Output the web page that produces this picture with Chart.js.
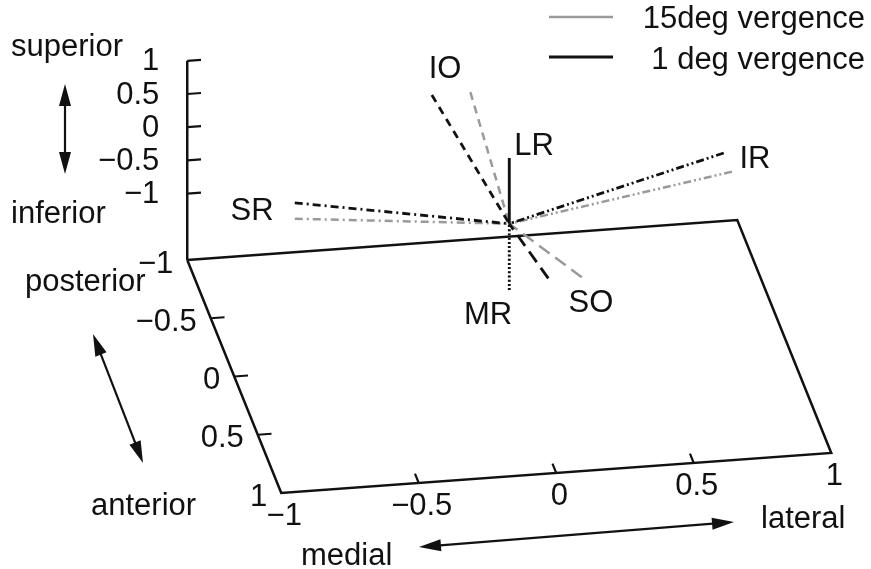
<!DOCTYPE html>
<html><head><meta charset="utf-8">
<script src="https://cdn.jsdelivr.net/npm/chart.js@4.4.0/dist/chart.umd.min.js"></script>
<style>html,body{margin:0;padding:0;background:#fff;}canvas{display:block;}</style>
</head><body>
<canvas id="c" width="871" height="569"></canvas>
<script>
// ---------------- data ----------------
const muscles = ['IO', 'LR', 'MR', 'SO', 'IR', 'SR'];
// muscle direction vectors [lateral, anterior, superior]
const vergence1 = [[-0.09, -1.12, 0], [0, 0, 0.99], [0, 0, -1.0], [0.06, 0.48, 0], [0.78, 0, 0.83], [-0.78, 0, 0.55]];
const vergence15 = [[0.05, -1.12, 0], [0, 0, 0.99], [0, 0, -1.0], [0.18, 0.49, 0], [0.81, 0, 0.54], [-0.78, 0, 0.31]];
const seriesNames = ['15deg vergence', '1 deg vergence'];
const lateralTicks = [-1, -0.5, 0, 0.5, 1];
const anteriorTicks = [-1, -0.5, 0, 0.5, 1];
const superiorTicks = [-1, -0.5, 0, 0.5, 1];
const floorLevel = -2;
const superiorTop = 1;

// ---------------- view (3D -> plane) ----------------
const VIEW = { ox: 509.25, oy: 223.7, ex: [275, -20], ey: [47, 116.5], ez: [0, -66.4] };
function proj(X, Y, Z) {
  return {
    x: VIEW.ox + VIEW.ex[0] * X + VIEW.ey[0] * Y + VIEW.ez[0] * Z,
    y: VIEW.oy + VIEW.ex[1] * X + VIEW.ey[1] * Y + VIEW.ez[1] * Z
  };
}
const fmt = v => (v < 0 ? '\u2212' : '') + String(Math.abs(v));

const BLACK = '#111111', GRAY = '#9a9a9a';
const dashes = { IO: [8, 6], LR: [], MR: [2, 2.2], SO: [13, 7], IR: [8, 3, 2, 3, 2, 3], SR: [8, 4, 2, 4] };

const datasets = [];
function seg(pts, color, width, dash, order) {
  datasets.push({
    data: pts, showLine: true, pointRadius: 0, pointHoverRadius: 0,
    borderColor: color, borderWidth: width, borderDash: dash || [],
    borderCapStyle: 'butt', borderJoinStyle: 'miter', fill: false, tension: 0, order: order
  });
}
// floor box
const lx = lateralTicks, ay = anteriorTicks;
const xMin = lx[0], xMax = lx[lx.length - 1], yMin = ay[0], yMax = ay[ay.length - 1];
seg([proj(xMin, yMin, floorLevel), proj(xMax, yMin, floorLevel), proj(xMax, yMax, floorLevel),
     proj(xMin, yMax, floorLevel), proj(xMin, yMin, floorLevel)], BLACK, 2.5, [], 3);
// vertical axis
seg([proj(xMin, yMin, floorLevel), proj(xMin, yMin, superiorTop)], BLACK, 2.5, [], 3);
// ticks
superiorTicks.forEach(z => seg([proj(xMin, yMin, z), proj(xMin + 0.05, yMin, z)], BLACK, 2.2, [], 3));
anteriorTicks.slice(1, -1).forEach(y => seg([proj(xMin, y, floorLevel), proj(xMin + 0.05, y, floorLevel)], BLACK, 2.2, [], 3));
lateralTicks.slice(1, -1).forEach(x => seg([proj(x, yMax, floorLevel), proj(x, yMax - 0.08, floorLevel)], BLACK, 2.2, [], 3));
// muscles
muscles.forEach((m, i) => {
  const v = vergence15[i];
  seg([proj(v[0], v[1], v[2]), proj(0, 0, 0)], GRAY, 2.5, dashes[m], 2);
});
muscles.forEach((m, i) => {
  const v = vergence1[i];
  seg([proj(v[0], v[1], v[2]), proj(0, 0, 0)], BLACK, 2.8, dashes[m], 1);
});

const muscleLabelPos = { IO: [445, 69], LR: [534, 146], MR: [488, 315], SO: [591, 303], IR: [755, 159], SR: [252, 211] };

const FONT = '31px "Liberation Sans", Arial, Helvetica, sans-serif';

function arrowHead(ctx, x1, y1, x2, y2, len, hw) {
  const a = Math.atan2(y2 - y1, x2 - x1);
  ctx.beginPath();
  ctx.moveTo(x2, y2);
  ctx.lineTo(x2 - len * Math.cos(a) + hw * Math.sin(a), y2 - len * Math.sin(a) - hw * Math.cos(a));
  ctx.lineTo(x2 - len * Math.cos(a) - hw * Math.sin(a), y2 - len * Math.sin(a) + hw * Math.cos(a));
  ctx.closePath();
  ctx.fill();
}
function dblArrow(ctx, xs, ys, p1, p2) {
  const x1 = xs.getPixelForValue(p1[0]), y1 = ys.getPixelForValue(p1[1]);
  const x2 = xs.getPixelForValue(p2[0]), y2 = ys.getPixelForValue(p2[1]);
  const a = Math.atan2(y2 - y1, x2 - x1), L = 18;
  ctx.beginPath();
  ctx.moveTo(x1 + L * Math.cos(a), y1 + L * Math.sin(a));
  ctx.lineTo(x2 - L * Math.cos(a), y2 - L * Math.sin(a));
  ctx.stroke();
  arrowHead(ctx, x1, y1, x2, y2, 22, 6);
  arrowHead(ctx, x2, y2, x1, y1, 22, 6);
}

const annot = {
  id: 'annot',
  afterDatasetsDraw(chart) {
    const ctx = chart.ctx, xs = chart.scales.x, ys = chart.scales.y;
    const P = (p) => [xs.getPixelForValue(p.x), ys.getPixelForValue(p.y)];
    ctx.save();
    ctx.fillStyle = BLACK; ctx.strokeStyle = BLACK;
    ctx.font = FONT;
    ctx.textBaseline = 'middle';
    // superior tick labels
    ctx.textAlign = 'right';
    superiorTicks.forEach(z => { const [x, y] = P(proj(xMin, yMin, z)); ctx.fillText(fmt(z), x - 28, y + 1); });
    // anterior tick labels
    anteriorTicks.forEach(a => { const [x, y] = P(proj(xMin, a, floorLevel)); ctx.fillText(fmt(a), x - 14, y + 4); });
    // lateral tick labels
    ctx.textAlign = 'center';
    lateralTicks.forEach(l => { const [x, y] = P(proj(l, yMax, floorLevel)); ctx.fillText(fmt(l), x + 3, y + 23); });
    // muscle labels
    muscles.forEach(m => { const p = muscleLabelPos[m]; ctx.fillText(m, xs.getPixelForValue(p[0]), ys.getPixelForValue(p[1])); });
    // direction labels
    ctx.textAlign = 'left';
    ctx.fillText('superior', 11, 47);
    ctx.fillText('inferior', 11, 214);
    ctx.fillText('posterior', 25, 282);
    ctx.fillText('anterior', 91, 506);
    ctx.fillText('medial', 301, 556);
    ctx.fillText('lateral', 761, 519);
    // arrows
    ctx.lineWidth = 2.2;
    dblArrow(ctx, xs, ys, [65, 84], [65, 174]);
    dblArrow(ctx, xs, ys, [93, 334], [143, 463]);
    dblArrow(ctx, xs, ys, [419, 547], [734, 522]);
    // legend
    ctx.textAlign = 'right';
    ctx.lineWidth = 2.5; ctx.strokeStyle = GRAY;
    ctx.beginPath(); ctx.moveTo(549, 17); ctx.lineTo(613, 17); ctx.stroke();
    ctx.lineWidth = 3; ctx.strokeStyle = BLACK;
    ctx.beginPath(); ctx.moveTo(549, 57); ctx.lineTo(613, 57); ctx.stroke();
    ctx.fillText(seriesNames[0], 865, 19);
    ctx.fillText(seriesNames[1], 865, 60);
    ctx.restore();
  }
};

new Chart(document.getElementById('c'), {
  type: 'scatter',
  data: { datasets: datasets },
  options: {
    responsive: false, animation: false,
    layout: { padding: 0 },
    plugins: { legend: { display: false }, tooltip: { enabled: false }, title: { display: false } },
    events: [],
    scales: {
      x: { type: 'linear', min: 0, max: 871, display: false },
      y: { type: 'linear', min: 0, max: 569, reverse: true, display: false }
    }
  },
  plugins: [annot]
});
</script>
</body></html>
